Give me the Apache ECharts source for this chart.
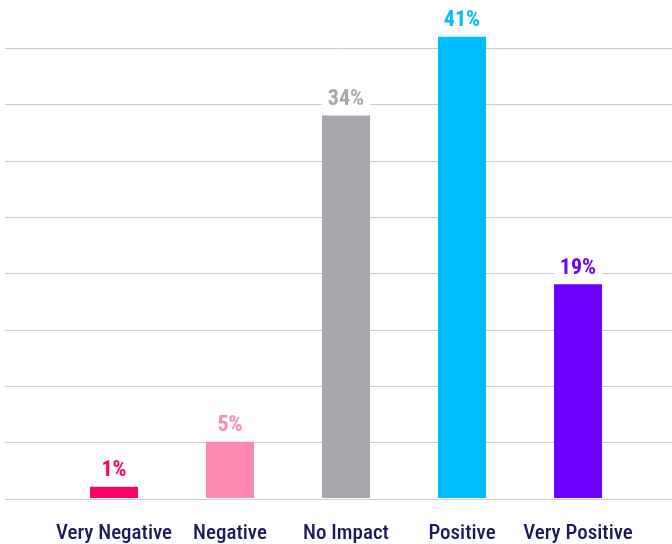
<!DOCTYPE html>
<html>
<head>
<meta charset="utf-8">
<script src="https://cdn.jsdelivr.net/npm/echarts@6/dist/echarts.min.js"></script>
<style>
  html, body { margin: 0; padding: 0; background: #ffffff; }
  #chart { width: 672px; height: 544px; }
</style>
</head>
<body>
<div id="chart"></div>
<script>
// Survey responses: share of respondents per impact rating
const categories = ['Very Negative', 'Negative', 'No Impact', 'Positive', 'Very Positive'];
const values = [1, 5, 34, 41, 19];
const barColors = ['#ff0066', '#ff88b1', '#a7a8ab', '#00bbff', '#6e00ff'];
const yTicks = [0, 5, 10, 15, 20, 25, 30, 35, 40];

const FONT = "'Roboto Condensed','Roboto','DejaVu Sans Condensed',sans-serif";

const chart = echarts.init(document.getElementById('chart'), null, { renderer: 'canvas' });

chart.setOption({
  animation: false,
  backgroundColor: '#ffffff',
  grid: [
    // full-width grid carrying the horizontal gridlines
    { left: 5, right: 0, top: 48, bottom: 45 },
    // inner grid holding the bars
    { left: 56, right: 36, top: 48, bottom: 45 }
  ],
  xAxis: [
    { gridIndex: 0, type: 'value', show: false, min: 0, max: 1 },
    {
      gridIndex: 1,
      type: 'category',
      data: categories,
      axisLine: { show: false },
      axisTick: { show: false },
      axisLabel: {
        color: '#1a1a5c',
        fontFamily: FONT,
        fontWeight: 500,
        fontSize: 21,
        margin: 25,
        interval: 0
      }
    }
  ],
  yAxis: [
    {
      gridIndex: 0,
      type: 'value',
      min: yTicks[0],
      max: yTicks[yTicks.length - 1],
      interval: yTicks[1] - yTicks[0],
      axisLine: { show: false },
      axisTick: { show: false },
      axisLabel: { show: false },
      splitLine: { show: true, lineStyle: { color: '#cccccc', width: 1 } }
    },
    {
      gridIndex: 1,
      type: 'value',
      min: yTicks[0],
      max: yTicks[yTicks.length - 1],
      show: false,
      splitLine: { show: false }
    }
  ],
  series: [{
    type: 'bar',
    xAxisIndex: 1,
    yAxisIndex: 1,
    barWidth: 48,
    clip: false,
    data: values.map((v, i) => ({
      value: v,
      itemStyle: { color: barColors[i] },
      label: { color: barColors[i] }
    })),
    label: {
      show: true,
      position: 'top',
      distance: 3,
      formatter: '{c}%',
      fontFamily: FONT,
      fontWeight: 'bold',
      fontSize: 22,
      backgroundColor: '#ffffff',
      padding: [2, 6, 2, 6]
    }
  }]
});
</script>
</body>
</html>
